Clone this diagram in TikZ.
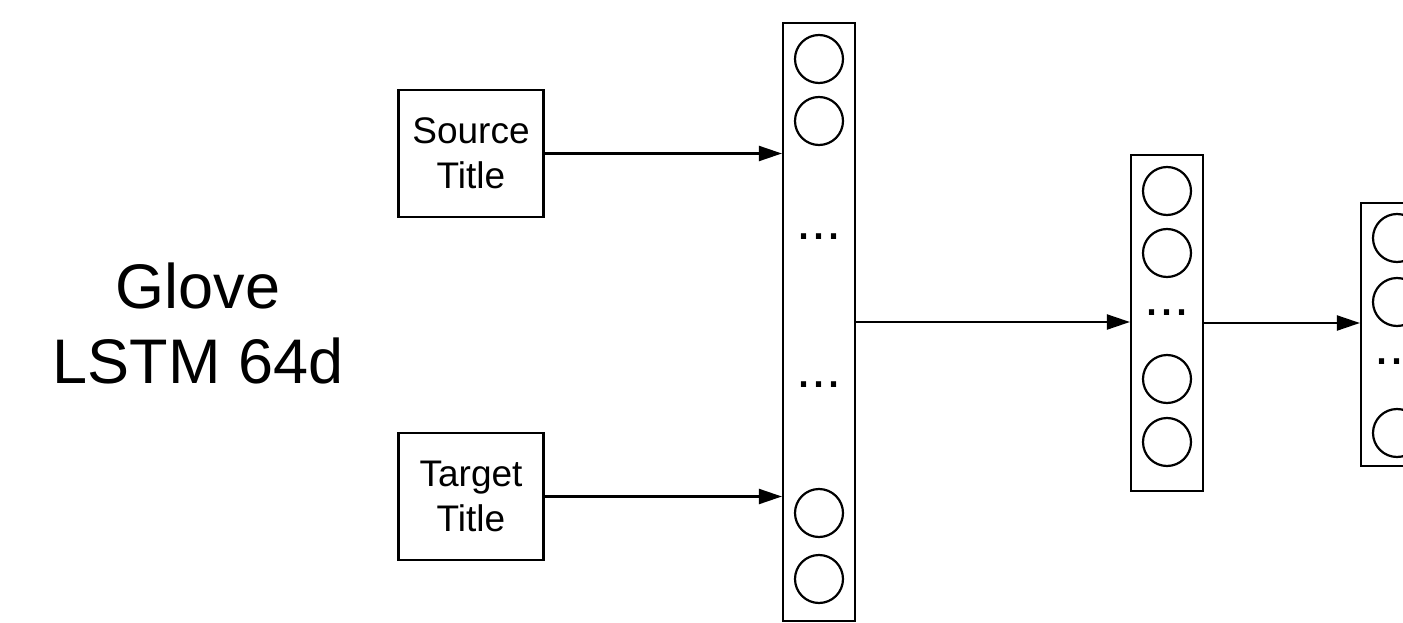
\documentclass[tikz,border=0pt]{standalone}
\usepackage{fontspec}
\setmainfont{Liberation Sans}
\usetikzlibrary{arrows.meta,positioning,calc}

\begin{document}
\begin{tikzpicture}[x=1pt, y=-1pt,
  layer/.style={draw, line width=2.2pt, minimum width=72pt, inner sep=0pt},
  unit/.style={draw, circle, line width=2.2pt, minimum size=48pt, inner sep=0pt},
  inbox/.style={draw, line width=2.2pt, minimum width=145pt, minimum height=127pt,
    align=center, font=\fontsize{37}{45}\selectfont},
  dots/.style={font=\fontsize{54}{60}\selectfont, inner sep=0pt},
  arr/.style={-{Triangle[length=23pt,width=15pt]}, line width=2.2pt},
  node distance=14pt
]
\clip (0,0) rectangle (1403,623);

\node[font=\fontsize{63}{75}\selectfont, align=center] (model) at (198,323) {Glove\\LSTM 64d};

\node[inbox] (src) at (471,153.5) {Source\\Title};
\node[inbox] (tgt) at (471,496.5) {Target\\Title};

% embedding layer
\node[layer, minimum height=598pt] (big) at (819,322) {};
\node[unit] (b1) at (819,59) {};
\node[unit] (b2) at (819,121) {};
\node[dots] (bd1) at (819,237) {...};
\node[dots] (bd2) at (819,385) {...};
\node[unit] (b3) at (819,513) {};
\node[unit] (b4) at (819,579) {};

% hidden layer
\node[layer, minimum height=336pt] (mid) at (1167,323) {};
\node[unit] (m1) at (1167,191) {};
\node[unit] (m2) at (1167,253) {};
\node[dots] (md) at (1167,313) {...};
\node[unit] (m3) at (1167,379) {};
\node[unit] (m4) at (1167,442) {};

% output layer
\node[layer, minimum height=263pt] (out) at (1397,334.5) {};
\node[unit] (o1) at (1397,238) {};
\node[unit] (o2) at (1397,302) {};
\node[dots] (od) at (1397,362) {...};
\node[unit] (o3) at (1397,433) {};

\draw[arr] (src.east) -- (src.east -| big.west);
\draw[arr] (tgt.east) -- (tgt.east -| big.west);
\draw[arr] (big.east) -- (big.east -| mid.west);
\draw[arr] (mid.east) -- (mid.east -| out.west);
\end{tikzpicture}
\end{document}
